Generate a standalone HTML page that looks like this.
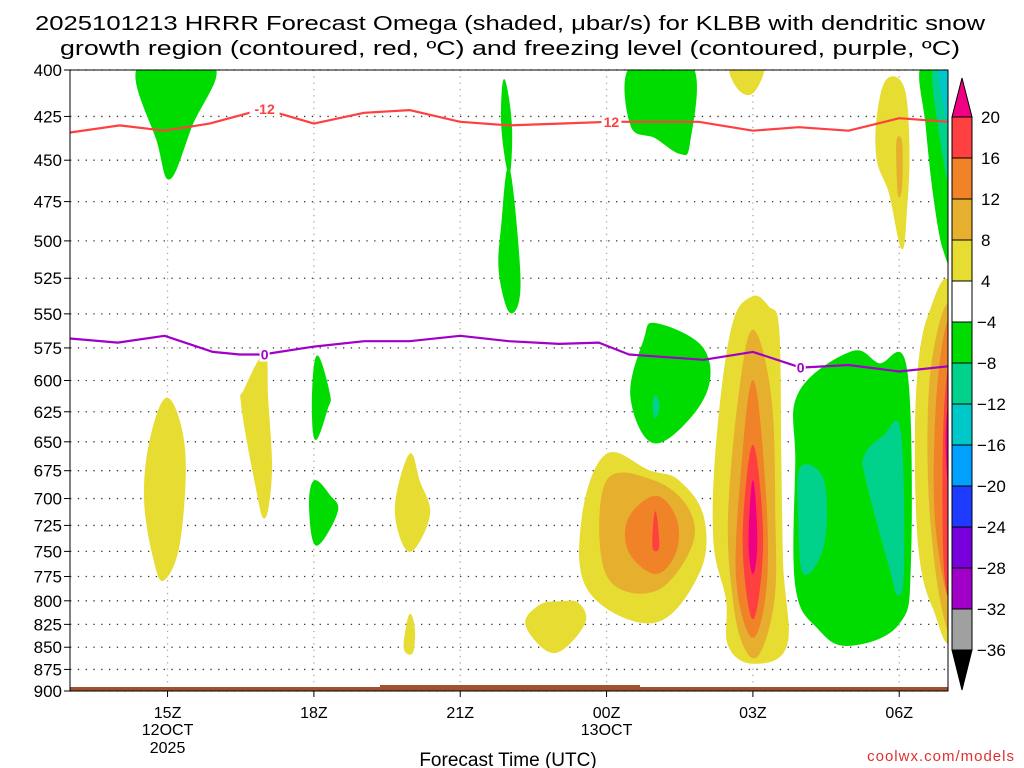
<!DOCTYPE html>
<html><head><meta charset="utf-8">
<style>
html,body{margin:0;padding:0;background:#fff;}
svg{display:block;font-family:"Liberation Sans",sans-serif;}
</style></head>
<body>
<svg id="chart" width="1024" height="768" viewBox="0 0 1024 768" xmlns="http://www.w3.org/2000/svg">
<defs><clipPath id="plotclip"><rect x="70" y="70" width="878" height="621"/></clipPath></defs>
<g font-size="20" fill="#000">
<text x="510" y="30" text-anchor="middle" textLength="950" lengthAdjust="spacingAndGlyphs">2025101213 HRRR Forecast Omega (shaded, μbar/s) for KLBB with dendritic snow</text>
<text x="510" y="55" text-anchor="middle" textLength="900" lengthAdjust="spacingAndGlyphs">growth region (contoured, red, ºC) and freezing level (contoured, purple, ºC)</text>
</g>
<g id="grid"></g>
<g id="shades" clip-path="url(#plotclip)"></g>
<g id="lines" clip-path="url(#plotclip)"></g>
<rect x="70" y="70" width="878" height="621" fill="none" stroke="#000" stroke-width="1"/>
<g id="yaxis" font-size="17"></g>
<g id="xaxis" font-size="16"></g>
<text x="508" y="766" text-anchor="middle" font-size="19">Forecast Time (UTC)</text>
<text x="1015" y="761" text-anchor="end" font-size="15" fill="#e03030" letter-spacing="1">coolwx.com/models</text>
<g id="cbar" font-size="17"></g>
</svg>
<script>
// ---- data ----
const yTicks=[400,425,450,475,500,525,550,575,600,625,650,675,700,725,750,775,800,825,850,875,900];
const xTickHours=[15,18,21,24,27,30];
const xTickLabels=["15Z","18Z","21Z","00Z","03Z","06Z"];
const cbarLevels=[20,16,12,8,4,-4,-8,-12,-16,-20,-24,-28,-32,-36];
const cbarColors=["#ff4040","#f08228","#e6af2d","#e6dc32","#ffffff","#00dc00","#00d28c","#00c8c8","#00a0ff","#1e3cff","#7800dc","#a000c8","#a0a0a0"];
const levelColor={y:"#e6dc32",g:"#e6af2d",o:"#f08228",r:"#ff4040",m:"#f00082",G:"#00dc00",T:"#00d28c",C:"#00c8c8"};
// shaded regions: [level, [hour, hPa] vertices]
const shapes=[
["G",[[14.4,398],[15.95,398],[15.5,430],[15.05,461],[14.8,440]]],
["G",[[21.9,405],[22.05,430],[22.0,458],[21.85,430]]],
["G",[[22,455],[22.2,510],[22.2,540],[22.0,548],[21.8,520],[21.85,490]]],
["G",[[24.5,398],[25.75,398],[25.7,440],[25.5,446],[25,437],[24.5,430]]],
["y",[[26.55,398],[27.2,398],[27.0,412],[26.7,410]]],
["y",[[29.55,425],[29.75,405],[30.1,410],[30.2,445],[30.15,480],[30.05,505],[29.8,470],[29.55,450]]],
["g",[[29.95,440],[30.05,440],[30.05,465],[29.98,470]]],
["G",[[30.45,398],[31.1,398],[31.1,505],[30.9,505],[30.7,470],[30.55,430]]],
["T",[[30.7,398],[31.1,398],[31.1,470],[30.8,430]]],
["C",[[30.8,398],[31.1,398],[31.1,440]]],
["G",[[25.01,557],[25.99,576],[25.99,614],[25.01,651],[24.5,613],[24.77,569]]],
["T",[[25.0,612],[25.08,620],[25.0,630],[24.95,620]]],
["y",[[23.99,661],[24.87,675],[25.48,684],[25.99,718],[25.89,772],[24.97,823],[23.64,790],[23.5,718]]],
["g",[[23.99,685],[24.97,684],[25.68,710],[25.72,747],[24.97,790],[23.99,772]]],
["o",[[25.01,698],[25.42,718],[25.42,750],[25.01,772],[24.46,750],[24.46,718]]],
["r",[[25.0,712],[25.07,745],[24.95,745]]],
["y",[[26.98,538],[27.32,545],[27.53,561],[27.57,657],[27.61,762],[27.69,848],[27.0,868],[26.5,848],[26.46,799],[26.2,740],[26.26,649],[26.57,560]]],
["g",[[27,562],[27.37,614],[27.45,718],[27.43,799],[27.12,858],[26.81,848],[26.6,799],[26.5,718],[26.71,614]]],
["o",[[27,600],[27.24,684],[27.28,780],[27,839],[26.67,780],[26.75,684]]],
["r",[[27,653],[27.2,740],[27,819],[26.8,740]]],
["m",[[27,684],[27.08,740],[27,772],[26.92,740]]],
["G",[[29.02,578],[29.58,587],[30.15,591],[30.23,762],[29.98,825],[28.96,848],[28.35,830],[27.88,785],[27.88,668],[27.94,610]]],
["T",[[27.98,672],[28.45,684],[28.45,744],[28.04,772],[27.94,718]]],
["T",[[29.68,645],[30.02,641],[30.09,762],[29.98,794],[29.78,762],[29.33,684],[29.29,662]]],
["y",[[31.1,543],[30.6,551],[30.35,614],[30.39,740],[30.7,808],[31.1,818]]],
["g",[[31.1,555],[30.68,584],[30.6,684],[30.84,797],[31.1,804]]],
["o",[[31.1,562],[30.8,600],[30.74,718],[31.1,789]]],
["r",[[31.1,584],[30.92,631],[30.92,762],[31.1,782]]],
["m",[[31.1,606],[30.96,649],[31.1,723]]],
["y",[[15,614],[15.35,657],[15.25,740],[14.94,778],[14.74,762],[14.53,702],[14.64,649]]],
["y",[[16.99,580],[17.05,614],[17.13,675],[16.99,718],[16.79,684],[16.52,620],[16.58,607]]],
["G",[[18.07,581],[18.32,611],[18.28,622],[18.03,648],[17.97,614]]],
["G",[[18.01,684],[18.32,697],[18.48,712],[18.05,744],[17.91,707]]],
["y",[[19.96,661],[20.16,684],[20.37,715],[19.96,750],[19.67,710]]],
["y",[[19.96,815],[20.06,830],[20.02,856],[19.85,850]]],
["y",[[22.62,805],[23.03,801],[23.43,803],[23.54,825],[22.92,856],[22.35,826]]]
];
const frzHours=[13,13.98,14.94,15.93,16.48,16.95,18,19.03,19.96,21,22,23.03,23.84,24.46,25.99,27,27.98,28.96,30,31];
const frzPres=[568,571,566,578,580,580,574,570,570,566,570,572,571,580,584,578,590,588,593,589];
const dgzHours=[13,14.02,14.94,15.86,16.68,16.99,18,19.03,19.96,21,22,23.03,24.05,25.89,27,27.94,28.96,30,31];
const dgzPres=[434,430,433,429,423,421,429,423,421.5,428,430,429,428,428,433,431,433,426,428];
// ---- scales ----
const X0=70,X1=948,Y0=70,Y1=691,H0=13,H1=31,P0=400,P1=900;
const x=h=>X0+(h-H0)*(X1-X0)/(H1-H0);
const y=p=>Y0+(Y1-Y0)*Math.log(p/P0)/Math.log(P1/P0);
const NS="http://www.w3.org/2000/svg";
function mk(tag,attrs,parent){const e=document.createElementNS(NS,tag);for(const k in attrs)e.setAttribute(k,attrs[k]);parent.appendChild(e);return e;}
function smoothClosed(P){
 const n=P.length,k=0.18;let d='M'+P[0][0].toFixed(1)+','+P[0][1].toFixed(1);
 for(let i=0;i<n;i++){
  const p0=P[(i-1+n)%n],p1=P[i],p2=P[(i+1)%n],p3=P[(i+2)%n];
  const c1=[p1[0]+(p2[0]-p0[0])*k,p1[1]+(p2[1]-p0[1])*k];
  const c2=[p2[0]-(p3[0]-p1[0])*k,p2[1]-(p3[1]-p1[1])*k];
  d+=` C${c1[0].toFixed(1)},${c1[1].toFixed(1)} ${c2[0].toFixed(1)},${c2[1].toFixed(1)} ${p2[0].toFixed(1)},${p2[1].toFixed(1)}`;
 }
 return d+'Z';
}
const grid=document.getElementById('grid'),shades=document.getElementById('shades'),lines=document.getElementById('lines');
const yaxis=document.getElementById('yaxis'),xaxis=document.getElementById('xaxis'),cbar=document.getElementById('cbar');
yTicks.forEach(p=>{
 const l=mk('line',{x1:X0,x2:X1,y1:y(p),y2:y(p),stroke:'#333','stroke-width':1.3,'stroke-dasharray':'1.3 6.5'},grid);
 
 
 const t=mk('line',{x1:X0-6,x2:X0,y1:y(p),y2:y(p),stroke:'#000'},yaxis);
 
 
 const tx=mk('text',{x:X0-8,y:y(p)+6,'text-anchor':'end'},yaxis);tx.textContent=p;
 
 
});
xTickHours.forEach((h,i)=>{
 const l=mk('line',{x1:x(h),x2:x(h),y1:Y0,y2:Y1,stroke:'#aaa','stroke-width':1.3,'stroke-dasharray':'1.3 5'},grid);
 
 
 const t=mk('line',{x1:x(h),x2:x(h),y1:Y1,y2:Y1+6,stroke:'#000'},xaxis);
 
 
 const tx=mk('text',{x:x(h),y:718,'text-anchor':'middle'},xaxis);tx.textContent=xTickLabels[i];
 
 
});
[[15,"12OCT",735],[15,"2025",753],[24,"13OCT",735]].forEach(d=>{
 const tx=mk('text',{x:x(d[0]),y:d[2],'text-anchor':'middle'},xaxis);tx.textContent=d[1];
 
 
});
shapes.forEach(s=>{
 const P=s[1].map(v=>[x(v[0]),y(v[1])]);
 const e=mk('path',{d:smoothClosed(P),fill:levelColor[s[0]],stroke:levelColor[s[0]],'stroke-width':1,'stroke-linejoin':'round'},shades);
 
 
});
const g1=mk('rect',{x:X0,y:687,width:X1-X0,height:5,fill:'#a0522d'},shades);


const g2=mk('rect',{x:380,y:685,width:260,height:4,fill:'#a0522d'},shades);


function line(hs,ps,col,name){
 const d=hs.map((h,i)=>(i?'L':'M')+x(h).toFixed(1)+','+y(ps[i]).toFixed(1)).join(' ');
 const e=mk('path',{d:d,fill:'none',stroke:col,'stroke-width':2.2,'stroke-linejoin':'round'},lines);
 
 
}
line(frzHours,frzPres,'#a000c8','freezing-level-line');
line(dgzHours,dgzPres,'#ff4040','dgz-minus12-line');
function clabel(h,p,txt,col,name){
 const r=mk('rect',{x:x(h)-(txt.length*5),y:y(p)-8,width:txt.length*10,height:15,fill:'#fff'},lines);
 
 
 const t=mk('text',{x:x(h),y:y(p)+5,'text-anchor':'middle','font-size':14,'font-weight':'bold',fill:col},lines);t.textContent=txt;
 
 
}
clabel(16.99,580,'0','#a000c8','freezing-level-label');
clabel(27.98,590,'0','#a000c8','freezing-level-label');
clabel(16.99,421,'-12','#ff4040','dgz-label');
clabel(24.1,428,'12','#ff4040','dgz-label');
const CX=952,CW=20,CT=117,CS=(650-117)/13;
const tri=mk('polygon',{points:`${CX},${CT} ${CX+CW},${CT} ${CX+CW/2},78`,fill:'#f00082',stroke:'#000'},cbar);


cbarColors.forEach((c,i)=>{
 const r=mk('rect',{x:CX,y:CT+i*CS,width:CW,height:CS,fill:c,stroke:'#000'},cbar);
 
 
});
const tri2=mk('polygon',{points:`${CX},650 ${CX+CW},650 ${CX+CW/2},690`,fill:'#000',stroke:'#000'},cbar);


cbarLevels.forEach((v,i)=>{
 const t=mk('text',{x:v<0?977:981,y:CT+i*CS+6},cbar);t.textContent=v<0?'−'+(-v):v;
 
 
});
</script>
</body></html>
